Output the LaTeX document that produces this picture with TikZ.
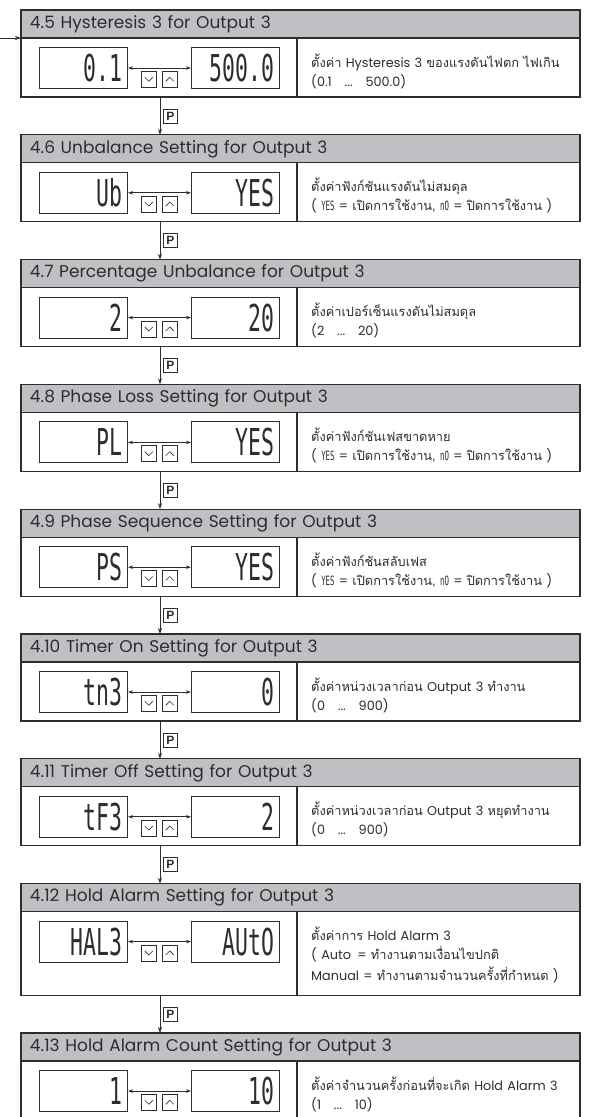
\documentclass[tikz,border=0pt]{standalone}
\usepackage{fontspec}
\setmainfont[WordSpace=1.5]{Poppins}
\newfontfamily\thaifont[Script=Thai]{Loma}
\newfontfamily\segfont[FakeStretch=0.58]{DejaVu Sans Mono}
\newfontfamily\keyfont{Liberation Sans}
\usetikzlibrary{arrows.meta}

\definecolor{ink}{RGB}{45,45,45}
\definecolor{headgray}{RGB}{191,192,195}

\newcommand\thtxt[1]{{\thaifont #1}}
\newcommand\seg[1]{{\segfont #1}}

% one menu step: title bar, the two values, the keys and the note
% #1 name, #2 top, #3 body height, #4 title, #5 #6 values, #7 #8 note lines
\newcommand\menustep[8]{%
  \node[headbar] (h#1) at (21,#2) {#4};
  \node[bodybox, minimum height=#3pt] (b#1) at (h#1.south west) {};
  \draw[divider] ([xshift=276pt]b#1.north west) -- ([xshift=276pt]b#1.south west);
  \node[display] (l#1) at ([xshift=18pt,yshift=-9pt]b#1.north west) {#5};
  \node[display] (r#1) at ([xshift=170pt,yshift=-9pt]b#1.north west) {#6};
  \draw[toggle] (l#1) -- (r#1);
  \node[keybox, keydown] (d#1) at ([xshift=120pt,yshift=-33pt]b#1.north west) {};
  \node[keybox, keyup] (u#1) at ([xshift=141pt,yshift=-33pt]b#1.north west) {};
  \node[note] (t#1) at ([xshift=290pt,yshift=-29pt]b#1.north west) {#7\\#8};
  \coordinate (c#1) at ([xshift=139pt]b#1.south west);
}

\begin{document}
\begin{tikzpicture}[x=1pt, y=-1pt,
    headbar/.style={draw=ink, line width=1.2pt, fill=headgray, anchor=north west,
      outer sep=0pt, inner xsep=9pt, inner ysep=0pt, minimum height=28pt,
      text width=541pt, align=left, text=ink, font=\fontsize{17}{20}\selectfont},
    bodybox/.style={draw=ink, line width=1.2pt, anchor=north west, outer sep=0pt,
      inner sep=0pt, minimum width=559pt},
    divider/.style={draw=ink, line width=1.2pt},
    display/.style={draw=ink, line width=1pt, anchor=north west, minimum height=41pt,
      text width=78pt, inner xsep=5pt, inner ysep=0pt, align=right, text=ink,
      font=\segfont\fontsize{37}{37}\selectfont},
    toggle/.style={draw=ink, line width=0.8pt,
      {Stealth[length=5pt,width=3.5pt]}-{Stealth[length=5pt,width=3.5pt]}},
    keybox/.style={draw=ink, line width=0.6pt, anchor=north west, minimum width=15pt,
      minimum height=16pt, inner sep=0pt},
    keydown/.style={path picture={\draw[ink, line width=0.6pt]
      ([xshift=-4pt,yshift=2pt]path picture bounding box.center) -- ++(4pt,-4pt) -- ++(4pt,4pt);}},
    keyup/.style={path picture={\draw[ink, line width=0.6pt]
      ([xshift=-4pt,yshift=-2pt]path picture bounding box.center) -- ++(4pt,4pt) -- ++(4pt,-4pt);}},
    note/.style={anchor=base west, inner sep=0pt, text width=285pt, align=left, text=ink,
      font=\fontsize{12.8}{19}\selectfont},
    flow/.style={draw=ink, line width=0.8pt, -{Stealth[length=6pt,width=4pt]}},
    pkey/.style={draw=ink, line width=0.8pt, anchor=west, xshift=3pt, inner sep=0pt,
      minimum width=14pt, minimum height=14pt, text=ink,
      font=\keyfont\bfseries\fontsize{12}{12}\selectfont}]
  \useasboundingbox[fill=white] (0,0) rectangle (601,1117);

  \menustep{5}{10}{59}{4.5 Hysteresis 3 for Output 3}{0.1}{500.0}
    {\thtxt{ตั้งค่า} Hysteresis 3 \thtxt{ของแรงดันไฟตก ไฟเกิน}}
    {(0.1\quad ...\quad 500.0)}
  \menustep{6}{134.8}{59}{4.6 Unbalance Setting for Output 3}{Ub}{YES}
    {\thtxt{ตั้งค่าฟังก์ชันแรงดันไม่สมดุล}}
    {( \seg{YES} = \thtxt{เปิดการใช้งาน,} \seg{nO} = \thtxt{ปิดการใช้งาน} )}
  \menustep{7}{259.6}{59}{4.7 Percentage Unbalance for Output 3}{2}{20}
    {\thtxt{ตั้งค่าเปอร์เซ็นแรงดันไม่สมดุล}}
    {(2\quad ...\quad 20)}
  \menustep{8}{384.4}{59}{4.8 Phase Loss Setting for Output 3}{PL}{YES}
    {\thtxt{ตั้งค่าฟังก์ชันเฟสขาดหาย}}
    {( \seg{YES} = \thtxt{เปิดการใช้งาน,} \seg{nO} = \thtxt{ปิดการใช้งาน} )}
  \menustep{9}{509.2}{59}{4.9 Phase Sequence Setting for Output 3}{PS}{YES}
    {\thtxt{ตั้งค่าฟังก์ชันสลับเฟส}}
    {( \seg{YES} = \thtxt{เปิดการใช้งาน,} \seg{nO} = \thtxt{ปิดการใช้งาน} )}
  \menustep{10}{634}{59}{4.10 Timer On Setting for Output 3}{tn3}{0}
    {\thtxt{ตั้งค่าหน่วงเวลาก่อน} Output 3 \thtxt{ทำงาน}}
    {(0\quad ...\quad 900)}
  \menustep{11}{758.8}{59}{4.11 Timer Off Setting for Output 3}{tF3}{2}
    {\thtxt{ตั้งค่าหน่วงเวลาก่อน} Output 3 \thtxt{หยุดทำงาน}}
    {(0\quad ...\quad 900)}
  \menustep{12}{883.6}{84}{4.12 Hold Alarm Setting for Output 3}{HAL3}{AUtO}
    {\thtxt{ตั้งค่าการ} Hold Alarm 3}
    {( Auto\enspace = \thtxt{ทำงานตามเงื่อนไขปกติ}\\[2pt]Manual = \thtxt{ทำงานตามจำนวนครั้งที่กำหนด} )}
  \menustep{13}{1033}{59}{4.13 Hold Alarm Count Setting for Output 3}{1}{10}
    {\thtxt{ตั้งค่าจำนวนครั้งก่อนที่จะเกิด} Hold Alarm 3}
    {(1\quad ...\quad 10)}

  % way in, then the P key between the steps
  \coordinate (entry) at (0,38);
  \draw[flow] (entry) -- (h5.south west);
  \foreach \a/\b in {5/6,6/7,7/8,8/9,9/10,10/11,11/12,12/13}
    \draw[flow] (c\a) -- (c\a |- h\b.north) node[midway, pkey] (p\a) {P};
\end{tikzpicture}
\end{document}
